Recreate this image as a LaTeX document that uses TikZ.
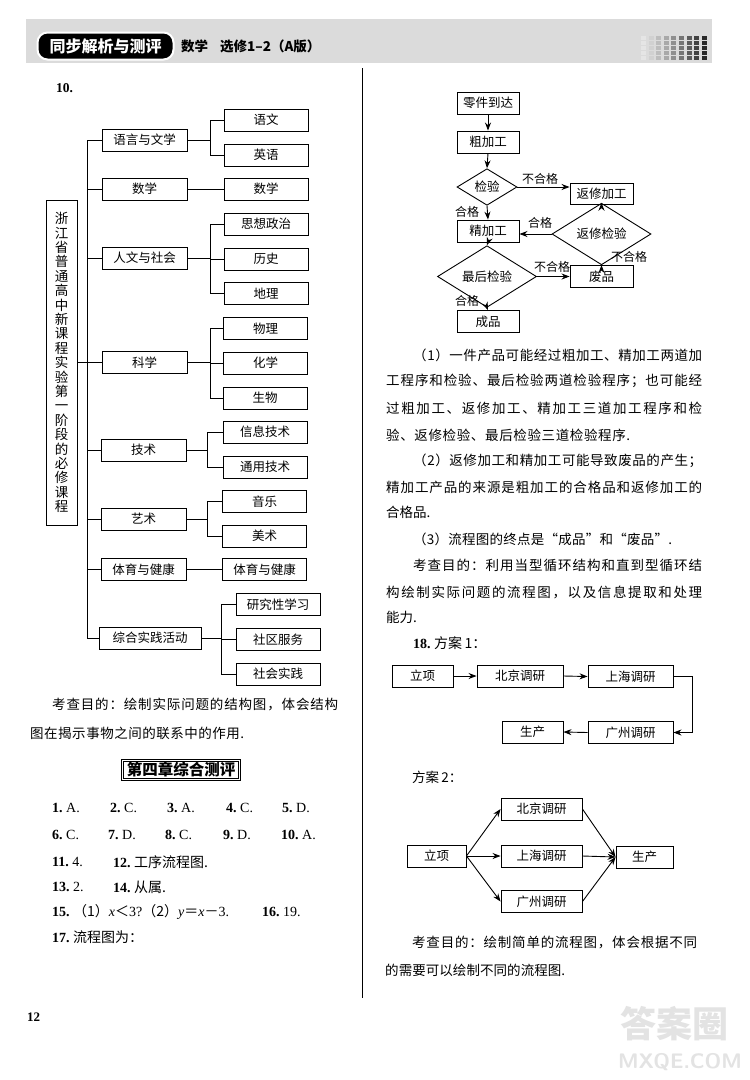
\documentclass[tikz,border=0pt]{standalone}
\usepackage{fontspec}
\setmainfont{Liberation Serif}
\newfontfamily\cjk{Noto Sans CJK SC}
\usetikzlibrary{arrows.meta,shapes.geometric}
\makeatletter
\newcommand\spr[2]{\hbox to #1{\@tfor\spr@c:=#2\do{\spr@c\hfil}\unskip}}
\makeatother
\tikzset{
  bx/.style={draw, line width=0.9pt, inner sep=0pt, minimum height=22pt, font=\cjk\fontsize{12.5}{13}\selectfont},
  lone/.style={bx, minimum width=85pt},
  ltwo/.style={bx, minimum width=84pt},
  fnode/.style={bx, minimum width=62pt, font=\cjk\fontsize{12.5}{13}\selectfont},
  dia/.style={diamond, draw, line width=0.9pt, inner sep=0pt, font=\cjk\fontsize{12.5}{13}\selectfont},
  conn/.style={line width=0.9pt},
  arr/.style={line width=0.9pt, -{Stealth[length=8pt,width=6pt]}},
  lbl/.style={font=\cjk\fontsize{12}{12}\selectfont, inner sep=0pt},
  txt/.style={anchor=west, inner sep=0pt, font=\cjk\fontsize{13.5}{14}\selectfont},
  ans/.style={anchor=west, inner sep=0pt, font=\fontsize{14}{14}\selectfont},
}
\begin{document}
\begin{tikzpicture}[x=1pt,y=-1pt]
\useasboundingbox (0,0) rectangle (750,1080);
\fill[white] (0,0) rectangle (750,1080);

% ---------- header ----------
\fill[gray!28] (26,19) rectangle (712,63);
\foreach \i/\c in {0/10,1/18,2/26,3/34,4/44,5/54,6/64,7/74,8/84}{
  \foreach \j in {0,...,4}{
    \fill[black!\c] (641+7.6*\i,36+5*\j) rectangle ++(5,3.6);
  }
}
\node[fill=black, draw=white, line width=2pt, rounded corners=10pt, minimum width=136pt, minimum height=27pt, inner sep=0pt, text=white, font=\cjk\bfseries\fontsize{16}{16}\selectfont] (pill) at (105.5,46) {同步解析与测评};
\node[anchor=west, inner sep=0pt, font=\cjk\bfseries\fontsize{13.5}{14}\selectfont] (sub) at (181,46) {数学\hspace{12pt}选修1–2（A版）};

% ---------- column divider ----------
\draw[line width=0.8pt] (362,68) -- (362,998);

% ---------- left: problem 10 tree ----------
\node[anchor=west, inner sep=0pt, font=\bfseries\fontsize{13.5}{14}\selectfont] (q10) at (56,88) {10.};

\node[draw, line width=0.9pt, minimum width=31pt, minimum height=325pt, inner sep=0pt, align=center, font=\cjk\fontsize{13.5}{14.4}\selectfont] (root) at (61.5,362.5)
 {浙\\江\\省\\普\\通\\高\\中\\新\\课\\程\\实\\验\\第\\一\\阶\\段\\的\\必\\修\\课\\程};

\node[lone] (a1) at (144.5,140) {语言与文学};
\node[lone] (a2) at (144.5,189) {数学};
\node[lone] (a3) at (144.5,258) {人文与社会};
\node[lone] (a4) at (144.5,362.5) {科学};
\node[lone] (a5) at (143.5,450) {技术};
\node[lone] (a6) at (143.5,519) {艺术};
\node[lone] (a7) at (143.5,569.5) {体育与健康};
\node[bx, minimum width=102pt] (a8) at (150,638) {综合实践活动};

\node[ltwo] (b1) at (266,120) {语文};
\node[ltwo] (b2) at (266,155) {英语};
\node[ltwo] (b3) at (266,189) {数学};
\node[ltwo] (b4) at (266,224) {思想政治};
\node[ltwo] (b5) at (266,259) {历史};
\node[ltwo] (b6) at (266,293.5) {地理};
\node[ltwo] (b7) at (265.5,328.5) {物理};
\node[ltwo] (b8) at (265.5,363) {化学};
\node[ltwo] (b9) at (265,398) {生物};
\node[ltwo] (b10) at (265,432) {信息技术};
\node[ltwo] (b11) at (265,467) {通用技术};
\node[ltwo] (b12) at (264.5,501.5) {音乐};
\node[ltwo] (b13) at (264.5,536) {美术};
\node[ltwo] (b14) at (264.5,569.5) {体育与健康};
\node[ltwo] (b15) at (278,604.5) {研究性学习};
\node[ltwo] (b16) at (278,639.5) {社区服务};
\node[ltwo] (b17) at (278,674) {社会实践};

\coordinate (ttop) at (87,140);
\coordinate (tbot) at (87,638);
\draw[conn] (ttop) -- (tbot);
\draw[conn] (root.east) -- (root.east -| ttop);
\foreach \n in {a1,a2,a3,a4,a5,a6,a7,a8}{\draw[conn] (\n.west) -- (\n.west -| ttop);}

\coordinate (k1) at (210,0);
\coordinate (k2) at (207,0);
\coordinate (k3) at (221,0);
% group 1
\draw[conn] (a1.east) -- (k1 |- a1.east);
\draw[conn] (k1 |- b1.west) -- (k1 |- b2.west);
\foreach \n in {b1,b2}{\draw[conn] (k1 |- \n.west) -- (\n.west);}
% group 2
\draw[conn] (a2.east) -- (b3.west);
% group 3
\draw[conn] (a3.east) -- (k1 |- a3.east);
\draw[conn] (k1 |- b4.west) -- (k1 |- b6.west);
\foreach \n in {b4,b5,b6}{\draw[conn] (k1 |- \n.west) -- (\n.west);}
% group 4
\draw[conn] (a4.east) -- (k1 |- a4.east);
\draw[conn] (k1 |- b7.west) -- (k1 |- b9.west);
\foreach \n in {b7,b8,b9}{\draw[conn] (k1 |- \n.west) -- (\n.west);}
% group 5
\draw[conn] (a5.east) -- (k2 |- a5.east);
\draw[conn] (k2 |- b10.west) -- (k2 |- b11.west);
\foreach \n in {b10,b11}{\draw[conn] (k2 |- \n.west) -- (\n.west);}
% group 6
\draw[conn] (a6.east) -- (k2 |- a6.east);
\draw[conn] (k2 |- b12.west) -- (k2 |- b13.west);
\foreach \n in {b12,b13}{\draw[conn] (k2 |- \n.west) -- (\n.west);}
% group 7
\draw[conn] (a7.east) -- (b14.west);
% group 8
\draw[conn] (a8.east) -- (k3 |- a8.east);
\draw[conn] (k3 |- b15.west) -- (k3 |- b17.west);
\foreach \n in {b15,b16,b17}{\draw[conn] (k3 |- \n.west) -- (\n.west);}

% ---------- left: text ----------
\node[txt] (lt1) at (52,704) {\spr{286pt}{考查目的：绘制实际问题的结构图，体会结构}};
\node[txt] (lt2) at (30,733) {\spr{214pt}{图在揭示事物之间的联系中的作用.}};

\node[draw, double, double distance=1.2pt, line width=0.5pt, inner sep=1pt, minimum width=117pt, minimum height=19pt, font=\cjk\bfseries\fontsize{15.5}{16}\selectfont] (chap) at (181,770) {第四章综合测评};

\node[ans] (r1a) at (52,808) {\textbf{1.}\ A.};
\node[ans] (r1b) at (110,808) {\textbf{2.}\ C.};
\node[ans] (r1c) at (167,808) {\textbf{3.}\ A.};
\node[ans] (r1d) at (226,808) {\textbf{4.}\ C.};
\node[ans] (r1e) at (282,808) {\textbf{5.}\ D.};
\node[ans] (r2a) at (52,835) {\textbf{6.}\ C.};
\node[ans] (r2b) at (108,835) {\textbf{7.}\ D.};
\node[ans] (r2c) at (165,835) {\textbf{8.}\ C.};
\node[ans] (r2d) at (223,835) {\textbf{9.}\ D.};
\node[ans] (r2e) at (281,835) {\textbf{10.}\ A.};
\node[ans] (r3a) at (52,862) {\textbf{11.}\ 4.};
\node[ans] (r3b) at (113,862) {\textbf{12.}\ {\cjk 工序流程图.}};
\node[ans] (r4a) at (52,887) {\textbf{13.}\ 2.};
\node[ans] (r4b) at (113,887) {\textbf{14.}\ {\cjk 从属.}};
\node[ans] (r5a) at (52,912) {\textbf{15.}\ {\cjk （1）}\textit{x}{\cjk ＜}3?{\cjk （2）}\textit{y}{\cjk ＝}\textit{x}{\cjk －}3.};
\node[ans] (r5b) at (262,912) {\textbf{16.}\ 19.};
\node[ans] (r6a) at (52,937) {\textbf{17.}\ {\cjk 流程图为：}};

% ---------- right: problem 17 flowchart ----------
\node[fnode] (n1) at (488,103) {零件到达};
\node[fnode] (n2) at (488,142) {粗加工};
\node[dia, minimum width=60pt, minimum height=34pt] (d1) at (487,187) {检验};
\node[fnode, minimum width=63pt, minimum height=21pt] (n3) at (601.5,194) {返修加工};
\node[dia, minimum width=99pt, minimum height=36pt] (d2) at (601.5,234) {返修检验};
\node[fnode] (n4) at (488,231) {精加工};
\node[dia, minimum width=99pt, minimum height=35pt] (d3) at (487,276.5) {最后检验};
\node[fnode, minimum width=63pt] (n5) at (601.5,276.5) {废品};
\node[fnode] (n6) at (488,321.5) {成品};

\draw[arr] (n1.south) -- (n2.north);
\draw[arr] (n2.south) -- (d1.north);
\draw[arr] (d1.south) -- (n4.north);
\draw[arr] (d1.east) -- (n3.west |- d1.east);
\draw[arr] (n3.south) -- (d2.north);
\draw[arr] (d2.west) -- (n4.east |- d2.west);
\draw[arr] (d2.south) -- (n5.north);
\draw[arr] (n4.south) -- (d3.north);
\draw[arr] (d3.east) -- (n5.west);
\draw[arr] (d3.south) -- (n6.north);

\node[lbl] (l1) at (467,212) {合格};
\node[lbl] (l2) at (540,179) {不合格};
\node[lbl] (l3) at (540,223) {合格};
\node[lbl] (l4) at (629,257) {不合格};
\node[lbl] (l5) at (552,267) {不合格};
\node[lbl] (l6) at (467,301) {合格};

% ---------- right: text ----------
\node[txt] (p1) at (413,355) {\spr{289pt}{（1）一件产品可能经过粗加工、精加工两道加}};
\node[txt] (p2) at (386,381) {\spr{316pt}{工程序和检验、最后检验两道检验程序；也可能经}};
\node[txt] (p3) at (386,408) {\spr{316pt}{过粗加工、返修加工、精加工三道加工程序和检}};
\node[txt] (p4) at (386,435) {\spr{244pt}{验、返修检验、最后检验三道检验程序.}};
\node[txt] (p5) at (413,461) {\spr{289pt}{（2）返修加工和精加工可能导致废品的产生；}};
\node[txt] (p6) at (386,487) {\spr{316pt}{精加工产品的来源是粗加工的合格品和返修加工的}};
\node[txt] (p7) at (386,512) {合格品.};
\node[txt] (p8) at (413,539) {\spr{259pt}{（3）流程图的终点是“成品”和“废品”.}};
\node[txt] (p9) at (413,565) {\spr{289pt}{考查目的：利用当型循环结构和直到型循环结}};
\node[txt] (p10) at (386,592) {\spr{316pt}{构绘制实际问题的流程图，以及信息提取和处理}};
\node[txt] (p11) at (386,617) {能力.};
\node[ans] (p12) at (413,643) {\textbf{18.}\ {\cjk 方案\,1：}};

% ---------- scheme 1 ----------
\node[fnode, minimum width=61pt] (s1) at (422.5,676) {立项};
\node[fnode, minimum width=86pt] (s2) at (520,676) {北京调研};
\node[fnode, minimum width=85pt] (s3) at (630.5,676.5) {上海调研};
\node[fnode, minimum width=85pt] (s4) at (630.5,732.5) {广州调研};
\node[fnode, minimum width=61pt] (s5) at (532.5,732) {生产};
\coordinate (sturn) at (692,676.5);
\draw[arr] (s1.east) -- (s2.west);
\draw[arr] (s2.east) -- (s3.west);
\draw[arr] (s3.east) -- (sturn) |- (s4.east);
\draw[arr] (s4.west) -- (s5.east);

\node[txt] (fa2) at (412,777) {方案\,2：};

% ---------- scheme 2 ----------
\node[fnode, minimum width=59pt] (t1) at (436.5,856) {立项};
\node[fnode, minimum width=81pt] (t2) at (541.5,809) {北京调研};
\node[fnode, minimum width=81pt] (t3) at (541.5,856) {上海调研};
\node[fnode, minimum width=81pt] (t4) at (541.5,901.5) {广州调研};
\node[fnode, minimum width=57pt] (t5) at (644.5,857) {生产};
\draw[arr] (t1.east) -- (t2.west);
\draw[arr] (t1.east) -- (t3.west);
\draw[arr] (t1.east) -- (t4.west);
\draw[arr] (t2.east) -- (t5.west);
\draw[arr] (t3.east) -- (t5.west);
\draw[arr] (t4.east) -- (t5.west);

\node[txt] (e1) at (412,943) {\spr{285pt}{考查目的：绘制简单的流程图，体会根据不同}};
\node[txt] (e2) at (385,970) {\spr{180pt}{的需要可以绘制不同的流程图.}};

% ---------- footer ----------
\node[anchor=west, inner sep=0pt, font=\bfseries\fontsize{13}{13}\selectfont] (pg) at (27,1017) {12};
\node[inner sep=0pt, text=gray!22, font=\cjk\bfseries\fontsize{36}{36}\selectfont] (wm1) at (674,1024) {答案圈};
\node[inner sep=0pt, text=gray!22, font=\sffamily\bfseries\fontsize{21}{21}\selectfont] (wm2) at (680,1062) {MXQE.COM};
\end{tikzpicture}
\end{document}
